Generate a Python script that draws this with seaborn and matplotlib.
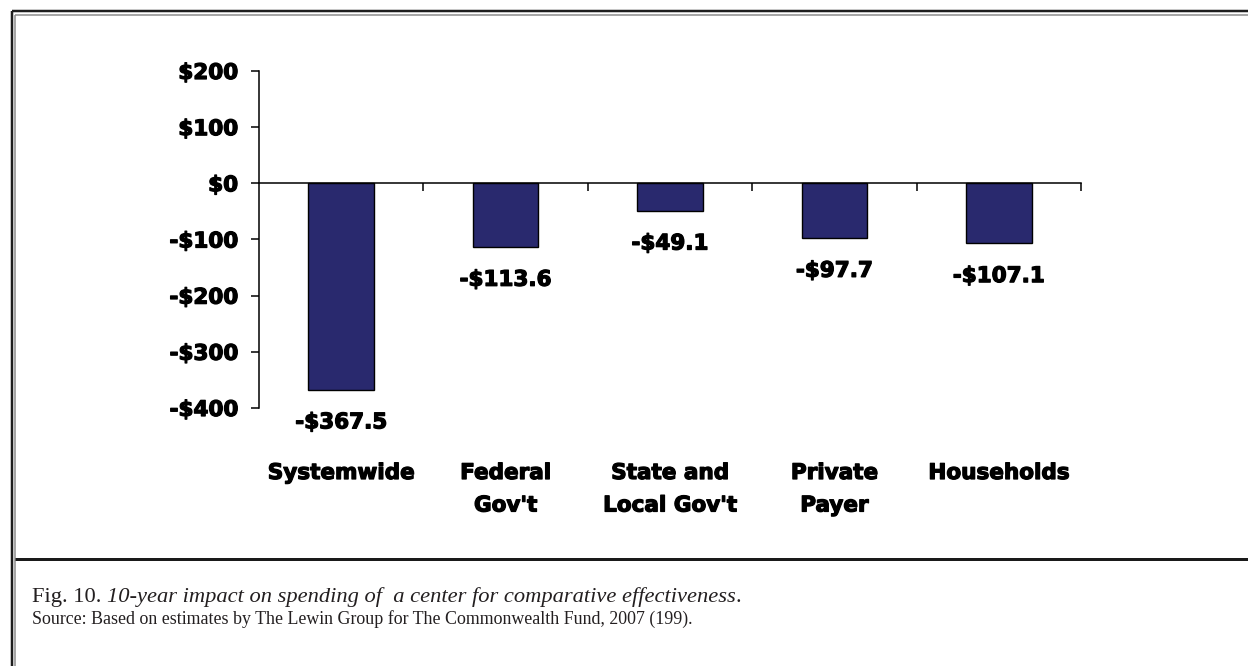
import matplotlib
matplotlib.use("Agg")
import matplotlib.pyplot as plt
import matplotlib.patheffects as pe
from matplotlib.lines import Line2D
from matplotlib.transforms import blended_transform_factory
import seaborn as sns
import pandas as pd

# Ten-year spending impact (billions of dollars) by payer
categories = ["Systemwide", "Federal\nGov't", "State and\nLocal Gov't", "Private\nPayer", "Households"]
savings = [-367.5, -113.6, -49.1, -97.7, -107.1]
y_ticks = [200, 100, 0, -100, -200, -300, -400]
y_tick_labels = ["$200", "$100", "$0", "-$100", "-$200", "-$300", "-$400"]

caption_lead = "Fig. 10. "
caption_title = "10-year impact on spending of  a center for comparative effectiveness"
caption_end = "."
caption_source = "Source: Based on estimates by The Lewin Group for The Commonwealth Fund, 2007 (199)."

W, H = 1248, 666
BAR_COLOR = "#29296e"
LABEL_SIZE = 15.5
HEAVY = [pe.withStroke(linewidth=0.9, foreground="black")]

sns.set_theme(style="white")
plt.rcParams["font.family"] = ["DejaVu Sans"]

fig = plt.figure(figsize=(W / 100, H / 100), dpi=100)
fig.patch.set_facecolor("white")

ax = fig.add_axes([259 / W, 1 - 408 / H, (1081 - 259) / W, (408 - 71) / H])
df = pd.DataFrame({"group": categories, "value": savings})
sns.barplot(data=df, x="group", y="value", color=BAR_COLOR, saturation=1,
            width=0.4, edgecolor="black", linewidth=1.0, ax=ax)

ax.set_xlim(-0.5, 4.5)
ax.set_ylim(-400, 200)
ax.set_xlabel("")
ax.set_ylabel("")
ax.set_facecolor("white")

for side in ("top", "right"):
    ax.spines[side].set_visible(False)
ax.spines["left"].set_linewidth(1.1)
ax.spines["left"].set_color("black")
ax.spines["bottom"].set_position(("data", 0))
ax.spines["bottom"].set_linewidth(1.1)
ax.spines["bottom"].set_color("black")

ax.set_yticks(y_ticks)
ax.set_yticklabels(y_tick_labels, fontsize=LABEL_SIZE, fontweight="bold")
for lbl in ax.get_yticklabels():
    lbl.set_path_effects(HEAVY)
ax.tick_params(axis="y", direction="out", length=6, width=1.1, pad=9,
               left=True, color="black", labelcolor="black")

ax.set_xticks([])
ax.set_xticks([0.5, 1.5, 2.5, 3.5, 4.5], minor=True)
ax.tick_params(axis="x", which="minor", direction="out", length=6, width=1.1,
               bottom=True, color="black")

# category names under the plot area
trans = blended_transform_factory(ax.transData, ax.transAxes)
for i, name in enumerate(categories):
    ax.text(i, -55 / 337, name, transform=trans, ha="center", va="top",
            multialignment="center", fontsize=LABEL_SIZE, fontweight="bold",
            linespacing=1.78, color="black", path_effects=HEAVY)

# value labels below each bar
for i, v in enumerate(savings):
    ax.annotate(f"-${abs(v):.1f}", xy=(i, v), xytext=(0, -23.5),
                textcoords="offset points", ha="center", va="center",
                fontsize=LABEL_SIZE, fontweight="bold", color="black",
                path_effects=HEAVY)


def px_line(x0, y0, x1, y1, lw_px, color):
    fig.add_artist(Line2D([x0 / W, x1 / W], [1 - y0 / H, 1 - y1 / H],
                          transform=fig.transFigure, lw=lw_px * 0.72,
                          color=color, solid_capstyle="butt"))


# double-rule frame and caption divider
px_line(12, 11, 12, H, 2.5, "#1e1e1e")
px_line(12, 11, W, 11, 2.5, "#1e1e1e")
px_line(15.5, 14.5, 15.5, H, 1.5, "#8a8a8a")
px_line(15.5, 14.5, W, 14.5, 1.5, "#8a8a8a")
px_line(15, 559, W, 559, 3, "#1a1a1a")

# caption
serif = "Liberation Serif"
fig.canvas.draw()
renderer = fig.canvas.get_renderer()
x = 32
pieces = [(caption_lead, "normal"), (caption_title, "italic"), (caption_end, "normal")]
for text, style in pieces:
    t = fig.text(x / W, 1 - 602 / H, text, family=serif, style=style,
                 fontsize=16.2, va="baseline", ha="left", color="#231f20")
    ext = t.get_window_extent(renderer=renderer)
    x = ext.x1
fig.text(32 / W, 1 - 624 / H, caption_source, family=serif, fontsize=12.9,
         va="baseline", ha="left", color="#231f20")

fig.savefig("out.png", dpi=100, facecolor="white")
